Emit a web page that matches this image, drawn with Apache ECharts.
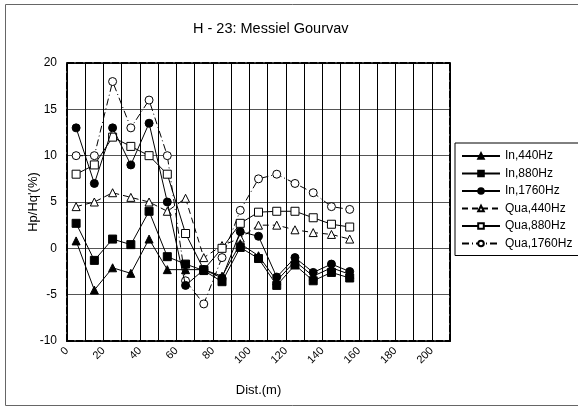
<!DOCTYPE html>
<html>
<head>
<meta charset="utf-8">
<script src="https://cdn.jsdelivr.net/npm/echarts@6/dist/echarts.min.js"></script>
<style>
html,body{margin:0;padding:0;background:#fff;}
#c{width:578px;height:408px;}
</style>
</head>
<body>
<div id="c"></div>
<script>
var dist = [5, 15, 25, 35, 45, 55, 65, 75, 85, 95, 105, 115, 125, 135, 145, 155];
var in440 = [0.8, -4.5, -2.1, -2.7, 1.0, -2.3, -2.3, -2.3, -3.0, 0.5, -0.8, -3.5, -1.4, -3.0, -2.1, -2.8];
var in880 = [2.7, -1.3, 1.0, 0.4, 4.0, -0.9, -1.7, -2.4, -3.6, 0.1, -1.1, -4.0, -1.8, -3.5, -2.6, -3.2];
var in1760 = [13, 7, 13, 9, 13.5, 5, -4, -2.3, -3.2, 1.8, 1.3, -3.1, -1.0, -2.6, -1.7, -2.5];
var qua440 = [4.5, 5, 6, 5.5, 5, 4, 5.4, -1.0, 0.3, 1.1, 2.5, 2.5, 2.0, 1.7, 1.5, 1.0];
var qua880 = [8, 9, 12, 11, 10, 8, 1.6, -2.3, 0, 2.7, 3.9, 4, 4, 3.3, 2.6, 2.3];
var qua1760 = [10, 10, 18, 13, 16, 10, -3.5, -6, -1, 4.1, 7.5, 8, 7, 6, 4.5, 4.2];
var seriesNames = ['In,440Hz', 'In,880Hz', 'In,1760Hz', 'Qua,440Hz', 'Qua,880Hz', 'Qua,1760Hz'];
var title = 'H - 23: Messiel Gourvav';
var xName = 'Dist.(m)';
var yName = "Hp/Hq'(%)";

function pairs(ys){ return dist.map(function(x,i){ return [x, ys[i]]; }); }

var FONT = 'Liberation Sans, Arial, sans-serif';
function mk(name, ys, symbol, filled, lineType, size){
  return {
    name: name, type: 'line', data: pairs(ys),
    symbol: symbol, symbolSize: size,
    lineStyle: {color: '#000', width: 1, type: lineType},
    itemStyle: {color: filled ? '#000' : '#fff', borderColor: '#000', borderWidth: 1},
    emphasis: {disabled: true},
    animation: false, z: filled ? 3 : 2
  };
}

var chart = echarts.init(document.getElementById('c'), null, {renderer: 'canvas'});
var axisLineDash = {show: true, onZero: false, lineStyle: {color: '#000', width: 2, type: [7, 2]}};
chart.setOption({
  animation: false,
  backgroundColor: '#fff',
  textStyle: {fontFamily: FONT},
  title: {text: title, left: 188, top: 16, textStyle: {fontFamily: FONT, fontSize: 14.5, fontWeight: 'normal', color: '#000'}},
  graphic: [{type: 'rect', shape: {x: 5.5, y: 4.5, width: 580, height: 401}, style: {fill: 'none', stroke: '#666', lineWidth: 1}, silent: true, z: -1}],
  grid: {left: 67, right: 128, top: 63, bottom: 67, show: false},
  legend: {
    orient: 'vertical', left: 455, top: 143,
    data: seriesNames,
    backgroundColor: '#fff', borderColor: '#000', borderWidth: 1,
    padding: [6, 20, 5, 6], itemGap: 3.5, itemWidth: 38, itemHeight: 7,
    textStyle: {fontFamily: FONT, fontSize: 12, color: '#000', lineHeight: 14}
  },
  xAxis: [{
    type: 'value', min: 0, max: 210, interval: 10,
    name: xName, nameLocation: 'middle', nameGap: 43, nameMoveOverlap: false,
    nameTextStyle: {fontFamily: FONT, fontSize: 13, color: '#000'},
    axisLine: axisLineDash, axisTick: {show: false},
    axisLabel: {rotate: 45, fontFamily: FONT, fontSize: 11, color: '#000', margin: 8,
      formatter: function(v){ return (v % 20 === 0 && v <= 200) ? String(v) : ''; }},
    splitLine: {show: true, lineStyle: {color: '#000', width: 1}}
  }, {
    type: 'value', min: 0, max: 210, position: 'top',
    axisLine: axisLineDash, axisTick: {show: false}, axisLabel: {show: false}, splitLine: {show: false}
  }],
  yAxis: [{
    type: 'value', min: -10, max: 20, interval: 5,
    name: yName, nameLocation: 'middle', nameGap: 27, nameMoveOverlap: false,
    nameTextStyle: {fontFamily: FONT, fontSize: 13, color: '#000'},
    axisLine: axisLineDash, axisTick: {show: false},
    axisLabel: {fontFamily: FONT, fontSize: 12, color: '#000', margin: 10},
    splitLine: {show: true, lineStyle: {color: '#555', width: 1}}
  }, {
    type: 'value', min: -10, max: 20, position: 'right',
    axisLine: axisLineDash, axisTick: {show: false}, axisLabel: {show: false}, splitLine: {show: false}
  }],
  series: [
    mk(seriesNames[0], in440, 'triangle', true, 'solid', 8),
    mk(seriesNames[1], in880, 'rect', true, 'solid', 8),
    mk(seriesNames[2], in1760, 'circle', true, 'solid', 8),
    mk(seriesNames[3], qua440, 'triangle', false, [6, 4], 8),
    mk(seriesNames[4], qua880, 'rect', false, 'solid', 8),
    mk(seriesNames[5], qua1760, 'circle', false, [7, 3, 1, 3], 8)
  ]
});
</script>
</body>
</html>
